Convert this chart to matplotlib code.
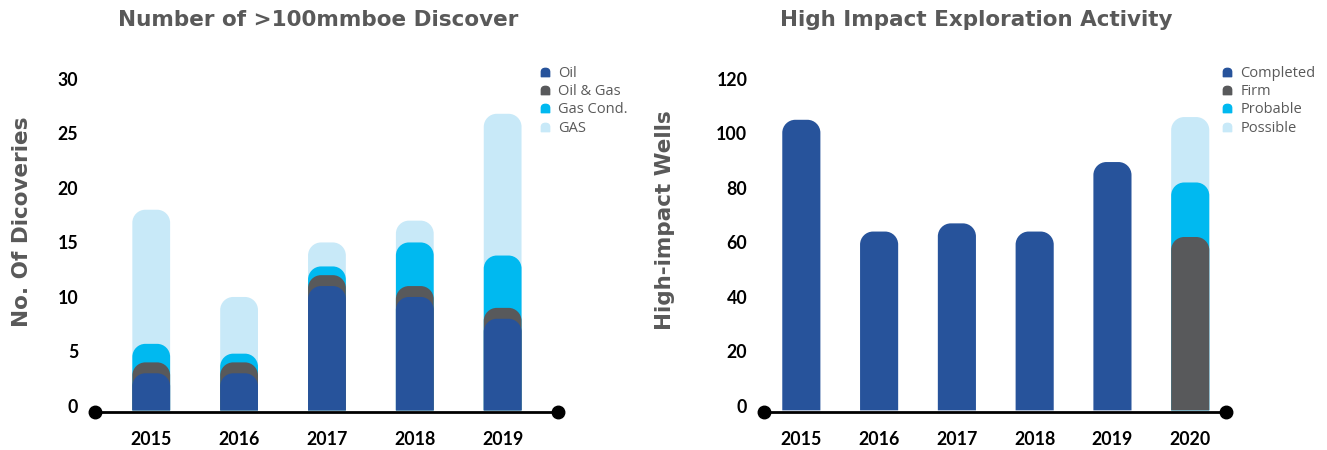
import numpy as np
import matplotlib
matplotlib.use("Agg")
import matplotlib.pyplot as plt
from matplotlib.path import Path
from matplotlib.patches import PathPatch
from matplotlib.lines import Line2D

# ---------------- data ----------------
years_left = ["2015", "2016", "2017", "2018", "2019"]
oil = [3, 3, 11, 10, 8]
oil_gas = [1, 1, 1, 1, 1]
gas_cond = [1.7, 0.8, 0.8, 4, 4.8]
gas = [12.3, 5.2, 2.2, 2, 13]
left_labels = ["Oil", "Oil & Gas", "Gas Cond.", "GAS"]

years_right = ["2015", "2016", "2017", "2018", "2019", "2020"]
completed = [105, 64, 67, 64, 89.5, 0]
firm = [0, 0, 0, 0, 0, 62]
probable = [0, 0, 0, 0, 0, 20]
possible = [0, 0, 0, 0, 0, 24]
right_labels = ["Completed", "Firm", "Probable", "Possible"]

left_ticks = [0, 5, 10, 15, 20, 25, 30]
right_ticks = [0, 20, 40, 60, 80, 100, 120]

colors = ["#27539b", "#58595b", "#00b9f0", "#c8e9f8"]
GRAY = "#595959"

W, H = 1327, 450
fig = plt.figure(figsize=(W / 100, H / 100), dpi=100)

FONT = "Lato"
TFONT = "DejaVu Sans"


def px_axes(x0, x1, ytop, ybot):
    return fig.add_axes([x0 / W, 1 - ybot / H, (x1 - x0) / W, (ybot - ytop) / H])


def rounded_bar(ax, x, width, bottom, top, color, rpx=13):
    fig.canvas.draw()
    bb = ax.get_window_extent()
    xl = ax.get_xlim(); yl = ax.get_ylim()
    sx = bb.width / (xl[1] - xl[0]); sy = bb.height / (yl[1] - yl[0])
    rx = rpx / sx; ry = min(rpx / sy, (top - bottom))
    k = 0.5523
    x0 = x - width / 2; x1 = x + width / 2
    verts = [(x0, bottom), (x0, top - ry),
             (x0, top - ry + k * ry), (x0 + rx - k * rx, top), (x0 + rx, top),
             (x1 - rx, top),
             (x1 - rx + k * rx, top), (x1, top - ry + k * ry), (x1, top - ry),
             (x1, bottom), (x0, bottom)]
    codes = [Path.MOVETO, Path.LINETO,
             Path.CURVE4, Path.CURVE4, Path.CURVE4,
             Path.LINETO,
             Path.CURVE4, Path.CURVE4, Path.CURVE4,
             Path.LINETO, Path.CLOSEPOLY]
    ax.add_patch(PathPatch(Path(verts, codes), facecolor=color, edgecolor="none", lw=0))


# dome-shaped legend marker
dome = Path([(-1, -1), (-1, 0.1), (-1, 0.75), (-0.6, 1), (0, 1), (0.6, 1), (1, 0.75), (1, 0.1),
             (1, -1), (-1, -1)],
            [Path.MOVETO, Path.LINETO, Path.CURVE4, Path.CURVE4, Path.CURVE4, Path.CURVE4, Path.CURVE4,
             Path.LINETO, Path.LINETO, Path.CLOSEPOLY])


def setup(ax, n, xlim, ylim, ticks, years, base):
    ax.set_xlim(*xlim)
    ax.set_ylim(*ylim)
    for s in ax.spines.values():
        s.set_visible(False)
    ax.set_yticks(ticks)
    ax.set_yticklabels([str(t) for t in ticks], fontsize=12.8, fontweight="bold", family=FONT, color="black")
    ax.set_xticks(range(n))
    ax.set_xticklabels(years, fontsize=12.8, fontweight="bold", family=FONT, color="black")
    ax.tick_params(axis="y", length=0, pad=12)
    ax.tick_params(axis="x", length=0, pad=14)
    ax.plot([xlim[0], xlim[1]], [base, base], color="black", lw=2, marker="o", ms=9,
            clip_on=False, zorder=5)


def draw_overlap(ax, series, width, bottom):
    cum = np.cumsum(np.array(series, dtype=float), axis=0)
    n = cum.shape[1]
    for si in range(len(series) - 1, -1, -1):
        for i in range(n):
            if series[si][i] == 0 and si > 0:
                continue
            if cum[si][i] <= 0:
                continue
            rounded_bar(ax, i, width, bottom, cum[si][i], colors[si])


def legend(labels, x, y):
    handles = [Line2D([], [], linestyle="none", marker=dome, ms=6, color=c) for c in colors]
    fig.legend(handles, labels, loc="upper left", bbox_to_anchor=(x / W, 1 - y / H), frameon=False,
               prop={"family": "Open Sans", "size": 10.5}, labelcolor=GRAY, handlelength=0.7,
               handletextpad=0.55, labelspacing=0.22, borderpad=0, borderaxespad=0)


# ---------------- left chart ----------------
axL = px_axes(95, 558, 68, 412)
setup(axL, 5, (-0.64, 4.63), (-0.55, 31), left_ticks, years_left, -0.55)
draw_overlap(axL, [oil, oil_gas, gas_cond, gas], 0.43, -0.4)
fig.text(22 / W, 1 - 222 / H, "No. Of Dicoveries", rotation=90, ha="center", va="center",
         fontsize=15.5, fontweight="bold", family=TFONT, color=GRAY)
fig.text(318 / W, 1 - 20 / H, "Number of >100mmboe Discover", ha="center", va="center",
         fontsize=15.5, fontweight="bold", family=TFONT, color=GRAY)
legend(left_labels, 540, 66)

# ---------------- right chart ----------------
axR = px_axes(764, 1226, 68, 412)
setup(axR, 6, (-0.48, 5.46), (-2.2, 124), right_ticks, years_right, -2.2)
draw_overlap(axR, [completed, firm, probable, possible], 0.49, -1.6)
fig.text(665 / W, 1 - 220 / H, "High-impact Wells", rotation=90, ha="center", va="center",
         fontsize=15.5, fontweight="bold", family=TFONT, color=GRAY)
fig.text(976 / W, 1 - 20 / H, "High Impact Exploration Activity", ha="center", va="center",
         fontsize=15.5, fontweight="bold", family=TFONT, color=GRAY)
legend(right_labels, 1222, 66)

fig.savefig("out.png", dpi=100)
